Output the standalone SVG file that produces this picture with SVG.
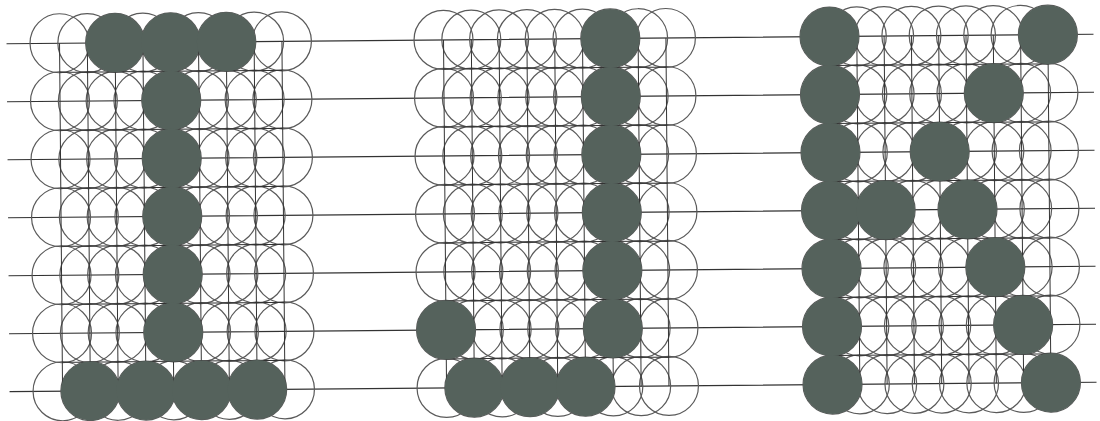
<svg xmlns="http://www.w3.org/2000/svg" xmlns:xlink="http://www.w3.org/1999/xlink" width="1100" height="421" viewBox="0 0 1100 421">
<style>
.o{fill:none;stroke:#5a5a5a;stroke-width:1.2}
.ln{fill:none;stroke:#333;stroke-width:1.2}
.gl{fill:none;stroke:#333;stroke-width:1}
.f{fill:#55625c;stroke:none}
</style>
<defs>
<g id="rowA">
<circle class="o" cx="0" cy="0" r="29.5"/><circle class="o" cx="27.8" cy="0" r="29.5"/><circle class="o" cx="55.6" cy="0" r="29.5"/><circle class="o" cx="83.4" cy="0" r="29.5"/><circle class="o" cx="111.2" cy="0" r="29.5"/><circle class="o" cx="139" cy="0" r="29.5"/><circle class="o" cx="166.8" cy="0" r="29.5"/><circle class="o" cx="194.6" cy="0" r="29.5"/><circle class="o" cx="222.4" cy="0" r="29.5"/>
</g>
<g id="rowB">
<circle class="o" cx="0" cy="0" r="29.5"/><circle class="o" cx="27.3" cy="0" r="29.5"/><circle class="o" cx="54.6" cy="0" r="29.5"/><circle class="o" cx="81.9" cy="0" r="29.5"/><circle class="o" cx="109.2" cy="0" r="29.5"/><circle class="o" cx="136.5" cy="0" r="29.5"/><circle class="o" cx="163.8" cy="0" r="29.5"/><circle class="o" cx="191.1" cy="0" r="29.5"/><circle class="o" cx="218.4" cy="0" r="29.5"/>
</g>
<g id="circlesA">
<use xlink:href="#rowA" href="#rowA" y="39"/><use xlink:href="#rowA" href="#rowA" y="97"/><use xlink:href="#rowA" href="#rowA" y="155"/><use xlink:href="#rowA" href="#rowA" y="213"/><use xlink:href="#rowA" href="#rowA" y="271"/><use xlink:href="#rowA" href="#rowA" y="329"/><use xlink:href="#rowA" href="#rowA" y="387"/>
<path class="gl" d="M0 39V387M27.8 39V387M55.6 39V387M83.4 39V387M111.2 39V387M139 39V387M166.8 39V387M194.6 39V387M222.4 39V387M0 68H222.4M0 126H222.4M0 184H222.4M0 242H222.4M0 300H222.4M0 358H222.4"/>
</g>
<g id="circlesB">
<use xlink:href="#rowB" href="#rowB" y="39"/><use xlink:href="#rowB" href="#rowB" y="97"/><use xlink:href="#rowB" href="#rowB" y="155"/><use xlink:href="#rowB" href="#rowB" y="213"/><use xlink:href="#rowB" href="#rowB" y="271"/><use xlink:href="#rowB" href="#rowB" y="329"/><use xlink:href="#rowB" href="#rowB" y="387"/>
<path class="gl" d="M0 39V387M27.3 39V387M54.6 39V387M81.9 39V387M109.2 39V387M136.5 39V387M163.8 39V387M191.1 39V387M218.4 39V387M0 68H218.4M0 126H218.4M0 184H218.4M0 242H218.4M0 300H218.4M0 358H218.4"/>
</g>
</defs>
<g transform="rotate(-0.5 550 210)">
<g id="connectors">
<path class="ln" d="M8 39H1095M8 97H1095M8 155H1095M8 213H1095M8 271H1095M8 329H1095M8 387H1095"/>
</g>
<g id="grid-I" transform="translate(61,0)">
<use xlink:href="#circlesA" href="#circlesA"/>
<circle class="f" cx="55.6" cy="39" r="29.5"/><circle class="f" cx="111.2" cy="39" r="29.5"/><circle class="f" cx="166.8" cy="39" r="29.5"/>
<circle class="f" cx="111.2" cy="97" r="29.5"/><circle class="f" cx="111.2" cy="155" r="29.5"/><circle class="f" cx="111.2" cy="213" r="29.5"/><circle class="f" cx="111.2" cy="271" r="29.5"/><circle class="f" cx="111.2" cy="329" r="29.5"/>
<circle class="f" cx="27.8" cy="387" r="29.5"/><circle class="f" cx="83.4" cy="387" r="29.5"/><circle class="f" cx="139" cy="387" r="29.5"/><circle class="f" cx="194.6" cy="387" r="29.5"/>
</g>
<g id="grid-J" transform="translate(445,0)">
<use xlink:href="#circlesA" href="#circlesA"/>
<circle class="f" cx="166.8" cy="39" r="29.5"/><circle class="f" cx="166.8" cy="97" r="29.5"/><circle class="f" cx="166.8" cy="155" r="29.5"/><circle class="f" cx="166.8" cy="213" r="29.5"/><circle class="f" cx="166.8" cy="271" r="29.5"/><circle class="f" cx="166.8" cy="329" r="29.5"/>
<circle class="f" cx="0" cy="329" r="29.5"/>
<circle class="f" cx="27.8" cy="387" r="29.5"/><circle class="f" cx="83.4" cy="387" r="29.5"/><circle class="f" cx="139" cy="387" r="29.5"/>
</g>
<g id="grid-K" transform="translate(831,0)">
<use xlink:href="#circlesB" href="#circlesB"/>
<circle class="f" cx="0" cy="39" r="29.5"/><circle class="f" cx="0" cy="97" r="29.5"/><circle class="f" cx="0" cy="155" r="29.5"/><circle class="f" cx="0" cy="213" r="29.5"/><circle class="f" cx="0" cy="271" r="29.5"/><circle class="f" cx="0" cy="329" r="29.5"/><circle class="f" cx="0" cy="387" r="29.5"/>
<circle class="f" cx="218.4" cy="39" r="29.5"/>
<circle class="f" cx="163.8" cy="97" r="29.5"/>
<circle class="f" cx="109.2" cy="155" r="29.5"/>
<circle class="f" cx="54.6" cy="213" r="29.5"/><circle class="f" cx="136.5" cy="213" r="29.5"/>
<circle class="f" cx="163.8" cy="271" r="29.5"/>
<circle class="f" cx="191.1" cy="329" r="29.5"/>
<circle class="f" cx="218.4" cy="387" r="29.5"/>
</g>
</g>
</svg>
